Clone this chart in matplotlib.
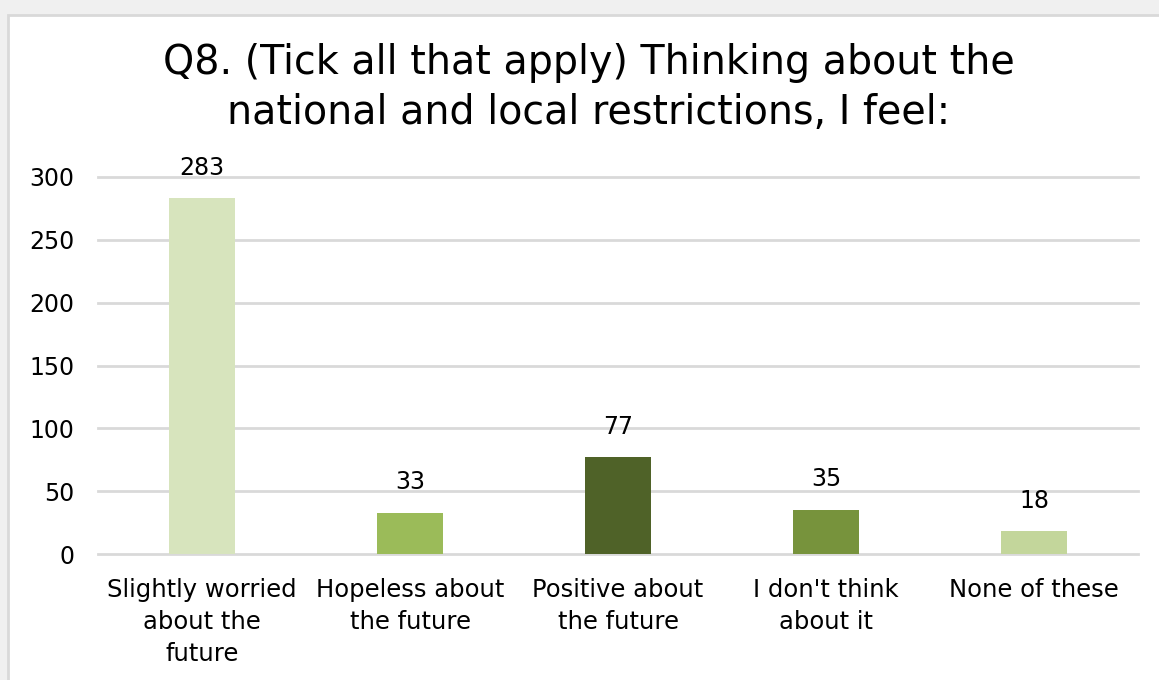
import matplotlib
matplotlib.use("Agg")
import matplotlib.pyplot as plt
from matplotlib.patches import Rectangle

categories = ["Slightly worried\nabout the\nfuture", "Hopeless about\nthe future",
              "Positive about\nthe future", "I don't think\nabout it", "None of these"]
values = [283, 33, 77, 35, 18]
bar_colors = ["#d7e4bd", "#9bbb59", "#4f6228", "#77933c", "#c3d69b"]
yticks = [0, 50, 100, 150, 200, 250, 300]
title = "Q8. (Tick all that apply) Thinking about the\nnational and local restrictions, I feel:"

plt.rcParams['font.family'] = ['DejaVu Sans']

fig = plt.figure(figsize=(11.59, 6.8), dpi=100)
fig.patch.set_facecolor("#f0f0f0")

# white chart panel with a light border
panel = Rectangle((8 / 1159, -0.05), 1.2, 1 - 15 / 680 + 0.05, transform=fig.transFigure,
                  facecolor="white", edgecolor="#d9d9d9", linewidth=2, zorder=-1)
fig.patches.append(panel)

ax = fig.add_axes([98 / 1159, 1 - 554 / 680, (1138 - 98) / 1159, (554 - 177) / 680])
ax.set_facecolor("none")

x = range(len(categories))
bars = ax.bar(x, values, width=0.32, color=bar_colors, zorder=3)
ax.set_xlim(-0.5, len(categories) - 0.5)
ax.set_ylim(0, 300)
ax.set_yticks(yticks)
ax.set_xticks(list(x))
ax.set_xticklabels(categories, fontsize=17.5, linespacing=1.42)
ax.tick_params(axis='y', labelsize=17, length=0, pad=17)
ax.tick_params(axis='x', length=0, pad=17)

ax.grid(axis='y', color="#d9d9d9", linewidth=2, zorder=0)
for gl in ax.get_ygridlines():
    gl.set_clip_on(False)
for s in ax.spines.values():
    s.set_visible(False)

for b, v in zip(bars, values):
    ax.annotate(str(v), (b.get_x() + b.get_width() / 2, v), xytext=(0, 22),
                textcoords="offset points", ha="center", va="center", fontsize=17)

fig.text(589 / 1159, 1 - 88 / 680, title, ha="center", va="center", fontsize=28.5,
         linespacing=1.33)

fig.savefig("out.png", dpi=100, facecolor=fig.get_facecolor())
